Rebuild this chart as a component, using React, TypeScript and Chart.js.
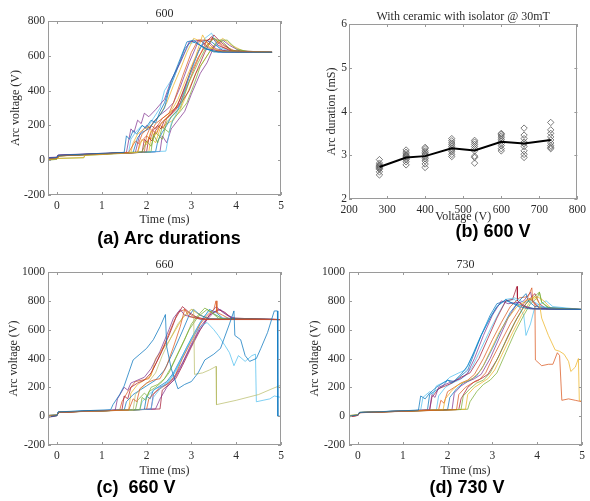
import React, { useEffect, useRef } from 'react';
import { Chart, registerables } from 'chart.js';
Chart.register(...registerables);

// ---------- shared ----------
const PALETTE = ['#0072BD', '#D95319', '#EDB120', '#7E2F8E', '#77AC30', '#4DBEEE', '#A2142F'];
const OLIVE = '#b8bd6a';
const TIME_TICKS = [0, 1, 2, 3, 4, 5];
const V800_TICKS = [-200, 0, 200, 400, 600, 800];
const V1000_TICKS = [-200, 0, 200, 400, 600, 800, 1000];

// ---------- panel (a) 600 V traces: [t(ms), V, t, V, ...] ----------
const A_TRACES: number[][] = [
  [-0.2, 12, 0, 15, 0.02, 28, 1.5, 45, 1.55, 140, 1.62, 120, 1.7, 170, 1.78, 150, 1.9, 200, 1.98, 185, 2.1, 230, 2.2, 215, 2.3, 280, 2.4, 330, 2.55, 450, 2.7, 550, 2.9, 680, 3.05, 690, 3.3, 640, 3.6, 622, 4.8, 620],
  [-0.2, 8, 0, 12, 0.05, 25, 1.6, 45, 1.75, 110, 1.82, 95, 1.9, 150, 2.05, 190, 2.12, 170, 2.2, 210, 2.35, 240, 2.5, 270, 2.6, 330, 2.8, 480, 3.0, 620, 3.15, 690, 3.3, 690, 3.55, 630, 4.8, 620],
  [-0.2, 5, 0, 10, 0.6, 15, 0.62, 28, 1.8, 45, 1.9, 120, 2.0, 90, 2.1, 170, 2.18, 140, 2.3, 200, 2.5, 260, 2.7, 350, 2.9, 480, 3.1, 600, 3.25, 720, 3.4, 650, 3.7, 625, 4.8, 620],
  [-0.2, 15, 0, 18, 0.03, 30, 1.55, 45, 1.65, 180, 1.72, 160, 1.8, 230, 1.88, 210, 1.95, 270, 2.05, 250, 2.2, 290, 2.4, 350, 2.55, 460, 2.75, 560, 2.95, 680, 3.2, 690, 3.4, 640, 3.7, 622, 4.8, 620],
  [-0.2, 0, 0, 5, 0.05, 25, 1.9, 48, 2.0, 110, 2.1, 80, 2.2, 160, 2.35, 120, 2.45, 220, 2.6, 260, 2.75, 300, 2.95, 450, 3.15, 560, 3.35, 660, 3.5, 700, 3.7, 680, 3.9, 630, 4.8, 620],
  [-0.2, 10, 0, 14, 0.04, 27, 2.43, 52, 2.5, 150, 2.55, 210, 2.65, 260, 2.8, 350, 2.95, 480, 3.1, 590, 3.3, 700, 3.45, 730, 3.6, 650, 3.9, 622, 4.8, 620],
  [-0.2, 12, 0, 16, 0.02, 28, 1.9, 45, 1.95, 120, 2.02, 100, 2.1, 160, 2.25, 200, 2.32, 180, 2.4, 230, 2.55, 270, 2.7, 320, 2.85, 420, 3.05, 560, 3.2, 650, 3.45, 710, 3.6, 660, 3.9, 625, 4.8, 620],
  [-0.2, 10, 0, 12, 0.03, 25, 1.7, 45, 1.8, 130, 1.9, 160, 2.05, 180, 2.2, 230, 2.3, 260, 2.4, 300, 2.5, 400, 2.65, 500, 2.85, 640, 3.0, 685, 3.2, 660, 3.5, 622, 4.8, 620],
  [-0.2, 5, 0, 8, 0.05, 25, 1.95, 46, 2.0, 140, 2.08, 120, 2.15, 170, 2.22, 150, 2.3, 200, 2.38, 185, 2.45, 240, 2.6, 280, 2.75, 330, 2.9, 420, 3.05, 520, 3.2, 610, 3.35, 690, 3.5, 700, 3.7, 650, 4.0, 622, 4.8, 620],
  [-0.2, 8, 0, 10, 0.04, 26, 1.65, 44, 1.7, 100, 1.8, 150, 1.95, 180, 2.1, 200, 2.3, 260, 2.45, 330, 2.6, 430, 2.75, 520, 2.9, 620, 3.05, 700, 3.25, 680, 3.5, 625, 4.8, 620],
  [-0.2, 14, 0, 16, 0.03, 28, 1.75, 45, 1.85, 150, 2.0, 200, 2.08, 185, 2.15, 220, 2.3, 260, 2.45, 290, 2.6, 330, 2.75, 420, 2.95, 560, 3.15, 680, 3.35, 690, 3.55, 640, 3.9, 622, 4.8, 620],
  [-0.2, 6, 0, 10, 0.6, 14, 0.62, 27, 2.1, 48, 2.15, 150, 2.25, 100, 2.35, 190, 2.5, 160, 2.6, 240, 2.75, 280, 2.9, 330, 3.05, 430, 3.2, 540, 3.4, 620, 3.6, 690, 3.8, 690, 4.0, 640, 4.3, 622, 4.8, 620],
  [-0.2, 10, 0, 12, 0.03, 26, 1.6, 44, 1.65, 120, 1.75, 160, 1.9, 200, 2.0, 180, 2.15, 240, 2.3, 300, 2.4, 400, 2.55, 460, 2.75, 560, 2.95, 670, 3.1, 680, 3.3, 640, 3.6, 622, 4.8, 620],
  [-0.2, 12, 0, 14, 0.02, 27, 2.0, 47, 2.05, 130, 2.12, 110, 2.2, 170, 2.35, 220, 2.5, 250, 2.65, 290, 2.8, 340, 2.95, 400, 3.1, 500, 3.3, 620, 3.5, 720, 3.65, 680, 3.9, 630, 4.8, 620],
  [-0.2, 8, 0, 12, 0.04, 26, 2.2, 48, 2.25, 110, 2.35, 160, 2.45, 200, 2.55, 250, 2.7, 290, 2.85, 400, 3.0, 520, 3.15, 620, 3.3, 690, 3.45, 680, 3.7, 630, 4.8, 620],
  [-0.2, 10, 0, 13, 0.03, 27, 1.8, 45, 1.85, 100, 2.0, 140, 2.1, 200, 2.2, 180, 2.35, 240, 2.5, 270, 2.65, 300, 2.8, 380, 2.95, 480, 3.15, 590, 3.3, 650, 3.5, 700, 3.7, 660, 4.0, 625, 4.8, 620],
  [-0.2, 4, 0, 8, 0.05, 24, 2.05, 48, 2.1, 130, 2.2, 100, 2.3, 180, 2.45, 210, 2.6, 230, 2.75, 290, 2.9, 380, 3.1, 500, 3.3, 580, 3.5, 660, 3.7, 700, 3.9, 660, 4.2, 622, 4.8, 620],
  [-0.2, 8, 0, 10, 0.04, 25, 2.3, 50, 2.35, 140, 2.45, 100, 2.55, 180, 2.7, 230, 2.85, 280, 3.0, 380, 3.2, 500, 3.35, 560, 3.5, 650, 3.7, 690, 3.85, 660, 4.1, 625, 4.8, 620],
];

// ---------- panel (c) 660 V traces ----------
const C_TRACES: number[][] = [
  [-0.2, -5, 0, 5, 0.03, 30, 1.2, 45, 1.25, 80, 1.4, 150, 1.5, 210, 1.6, 300, 1.7, 390, 1.85, 430, 2.0, 470, 2.15, 530, 2.3, 620, 2.42, 705, 2.45, 480, 2.55, 330, 2.7, 190, 2.85, 220, 3.0, 240, 3.15, 300, 3.3, 390, 3.5, 430, 3.65, 470, 3.85, 640, 3.95, 730, 3.97, 560, 4.1, 530, 4.2, 420, 4.3, 380, 4.45, 400, 4.55, 470, 4.7, 580, 4.85, 730, 4.92, 730, 4.93, 0, 5.0, 0],
  [-0.2, 0, 0, 8, 0.05, 28, 1.6, 42, 1.7, 120, 1.78, 100, 1.85, 190, 2.0, 230, 2.15, 250, 2.3, 260, 2.45, 350, 2.6, 480, 2.75, 620, 2.85, 740, 2.95, 690, 3.1, 680, 3.3, 670, 5, 670],
  [-0.2, 5, 0, 10, 0.04, 30, 1.7, 42, 1.75, 150, 1.9, 200, 2.05, 240, 2.2, 300, 2.35, 420, 2.5, 520, 2.7, 640, 2.85, 700, 3.0, 740, 3.05, 740, 3.07, 290, 3.25, 300, 3.4, 320, 3.55, 345, 3.56, 80, 4.0, 110, 4.5, 150, 4.8, 190, 5.0, 215],
  [-0.2, -8, 0, 2, 0.03, 28, 1.3, 42, 1.35, 120, 1.5, 200, 1.58, 180, 1.65, 230, 1.8, 250, 1.95, 270, 2.1, 330, 2.3, 450, 2.5, 600, 2.6, 680, 2.75, 740, 2.85, 700, 3.0, 690, 3.2, 672, 5, 670],
  [-0.2, 0, 0, 6, 0.04, 28, 1.85, 45, 1.9, 130, 1.98, 110, 2.05, 170, 2.2, 200, 2.35, 240, 2.5, 300, 2.65, 400, 2.85, 530, 3.0, 640, 3.15, 700, 3.3, 750, 3.45, 720, 3.6, 680, 3.8, 672, 5, 670],
  [-0.2, 5, 0, 10, 0.03, 30, 2.1, 48, 2.15, 130, 2.3, 190, 2.45, 230, 2.6, 290, 2.75, 380, 2.9, 480, 3.05, 560, 3.2, 620, 3.35, 650, 3.5, 600, 3.6, 560, 3.75, 490, 3.85, 440, 3.95, 350, 4.05, 420, 4.2, 380, 4.35, 420, 4.43, 430, 4.45, 100, 4.6, 110, 4.75, 120, 4.85, 140, 5.0, 130],
  [-0.2, -5, 0, 5, 0.03, 27, 1.45, 42, 1.5, 140, 1.58, 120, 1.65, 200, 1.8, 230, 1.95, 250, 2.1, 300, 2.3, 420, 2.5, 560, 2.65, 680, 2.8, 760, 2.95, 720, 3.1, 690, 3.3, 672, 5, 670],
  [-0.2, 0, 0, 8, 0.04, 30, 1.5, 42, 1.55, 100, 1.7, 150, 1.85, 180, 2.0, 210, 2.2, 250, 2.4, 320, 2.6, 450, 2.8, 590, 2.95, 700, 3.05, 740, 3.2, 700, 3.4, 675, 5, 670],
  [-0.2, 5, 0, 10, 0.05, 28, 2.0, 47, 2.05, 120, 2.2, 170, 2.35, 200, 2.5, 230, 2.65, 290, 2.8, 400, 3.0, 520, 3.2, 640, 3.35, 700, 3.5, 740, 3.55, 800, 3.57, 720, 3.7, 700, 3.85, 675, 5, 670],
  [-0.2, -3, 0, 8, 0.04, 28, 1.6, 43, 1.65, 160, 1.8, 220, 1.95, 250, 2.1, 280, 2.2, 400, 2.35, 460, 2.5, 520, 2.65, 600, 2.8, 680, 3.0, 740, 3.2, 700, 3.4, 675, 5, 670],
  [-0.2, 0, 0, 6, 0.03, 28, 2.2, 50, 2.3, 120, 2.45, 200, 2.6, 250, 2.75, 330, 2.95, 460, 3.15, 580, 3.35, 670, 3.5, 720, 3.65, 740, 3.8, 700, 4.0, 675, 5, 670],
  [-0.2, -6, 0, 3, 0.04, 27, 1.75, 44, 1.8, 110, 1.95, 160, 2.02, 140, 2.1, 200, 2.25, 220, 2.4, 260, 2.55, 340, 2.75, 470, 2.95, 600, 3.15, 690, 3.35, 740, 3.5, 710, 3.7, 675, 5, 670],
  [-0.2, 3, 0, 10, 0.03, 29, 1.85, 45, 1.9, 100, 2.05, 150, 2.2, 190, 2.35, 210, 2.5, 240, 2.65, 310, 2.85, 440, 3.05, 570, 3.25, 680, 3.4, 730, 3.55, 700, 3.75, 672, 5, 670],
  [-0.2, -2, 0, 8, 0.04, 28, 2.3, 50, 2.35, 180, 2.5, 220, 2.65, 260, 2.8, 350, 3.0, 480, 3.2, 600, 3.4, 700, 3.6, 740, 3.75, 720, 3.9, 680, 5, 670],
  [-0.2, 4, 0, 9, 0.04, 29, 1.95, 46, 2.0, 140, 2.08, 120, 2.15, 180, 2.3, 210, 2.45, 240, 2.6, 300, 2.8, 420, 3.0, 540, 3.2, 650, 3.4, 740, 3.55, 720, 3.7, 680, 5, 670],
  [-0.2, -4, 0, 6, 0.04, 28, 1.4, 42, 1.45, 100, 1.6, 180, 1.75, 240, 1.9, 250, 2.05, 260, 2.2, 360, 2.4, 500, 2.6, 650, 2.7, 720, 2.85, 740, 3.0, 700, 3.2, 675, 5, 670],
  [-0.2, 2, 0, 8, 0.04, 28, 2.1, 48, 2.15, 150, 2.3, 200, 2.45, 220, 2.6, 260, 2.8, 370, 3.0, 500, 3.2, 620, 3.4, 700, 3.55, 760, 3.7, 720, 3.9, 680, 5, 670],
];
const C_COLORS = [PALETTE[0], PALETTE[1], OLIVE, PALETTE[3], PALETTE[4], PALETTE[5], PALETTE[6], PALETTE[0], PALETTE[1], PALETTE[2], PALETTE[3], PALETTE[4], PALETTE[5], PALETTE[6], PALETTE[0], PALETTE[1], PALETTE[3]];

// ---------- panel (d) 730 V traces ----------
const D_TRACES: number[][] = [
  [-0.2, 0, 0, 8, 0.03, 25, 1.35, 42, 1.4, 140, 1.5, 120, 1.6, 160, 1.75, 200, 1.9, 230, 2.0, 250, 2.1, 230, 2.3, 290, 2.45, 350, 2.6, 450, 2.75, 560, 2.95, 680, 3.1, 760, 3.3, 810, 3.4, 790, 3.6, 760, 3.8, 745, 5, 740],
  [-0.2, -5, 0, 5, 0.04, 24, 2.2, 45, 2.25, 150, 2.4, 200, 2.55, 230, 2.7, 250, 2.85, 300, 3.0, 400, 3.2, 520, 3.4, 640, 3.6, 740, 3.8, 820, 3.9, 800, 3.95, 780, 3.96, 390, 4.1, 350, 4.25, 360, 4.35, 360, 4.45, 440, 4.5, 420, 4.55, 110, 4.7, 120, 4.85, 110, 5.0, 100],
  [-0.2, 5, 0, 10, 0.04, 26, 1.9, 45, 1.95, 120, 2.1, 180, 2.25, 220, 2.4, 240, 2.55, 260, 2.75, 320, 2.95, 450, 3.15, 580, 3.35, 680, 3.55, 760, 3.75, 800, 3.95, 830, 4.05, 780, 4.1, 680, 4.25, 560, 4.4, 460, 4.5, 450, 4.6, 430, 4.7, 380, 4.75, 310, 4.85, 340, 4.92, 400, 4.94, 110, 5.0, 100],
  [-0.2, -3, 0, 6, 0.03, 25, 1.6, 43, 1.65, 150, 1.72, 130, 1.8, 200, 1.95, 220, 2.1, 240, 2.3, 260, 2.45, 300, 2.6, 400, 2.8, 560, 3.0, 700, 3.2, 800, 3.35, 780, 3.6, 790, 3.75, 760, 3.9, 745, 5, 740],
  [-0.2, 0, 0, 8, 0.04, 25, 2.3, 46, 2.35, 140, 2.5, 190, 2.65, 230, 2.8, 250, 2.95, 300, 3.15, 420, 3.35, 560, 3.55, 680, 3.75, 780, 3.9, 820, 4.05, 860, 4.1, 790, 4.25, 750, 5, 740],
  [-0.2, 4, 0, 9, 0.03, 26, 1.4, 42, 1.45, 130, 1.6, 170, 1.68, 150, 1.75, 210, 1.95, 240, 2.05, 270, 2.25, 300, 2.4, 320, 2.55, 420, 2.7, 530, 2.9, 660, 3.1, 760, 3.3, 810, 3.5, 820, 3.7, 790, 3.9, 800, 4.1, 760, 4.3, 745, 5, 740],
  [-0.2, -2, 0, 6, 0.04, 25, 1.6, 43, 1.65, 130, 1.8, 190, 1.95, 210, 2.1, 230, 2.3, 270, 2.5, 300, 2.7, 400, 2.9, 540, 3.1, 680, 3.3, 800, 3.45, 810, 3.55, 900, 3.56, 800, 3.7, 760, 3.85, 745, 5, 740],
  [-0.2, 2, 0, 7, 0.04, 26, 2.0, 45, 2.05, 130, 2.2, 190, 2.35, 230, 2.5, 250, 2.65, 280, 2.8, 350, 3.0, 470, 3.2, 600, 3.4, 720, 3.6, 800, 3.75, 850, 3.8, 800, 3.95, 760, 5, 740],
  [-0.2, 0, 0, 8, 0.04, 25, 1.8, 44, 1.85, 110, 1.92, 90, 2.0, 170, 2.15, 200, 2.3, 230, 2.45, 250, 2.6, 290, 2.8, 400, 3.0, 530, 3.2, 650, 3.4, 760, 3.6, 820, 3.8, 830, 3.88, 890, 3.9, 790, 4.05, 750, 5, 740],
  [-0.2, 3, 0, 10, 0.04, 26, 2.4, 48, 2.45, 150, 2.6, 200, 2.75, 230, 2.9, 260, 3.05, 320, 3.25, 450, 3.45, 580, 3.65, 700, 3.85, 800, 4.0, 830, 4.15, 800, 4.3, 750, 5, 740],
  [-0.2, -4, 0, 5, 0.03, 24, 2.1, 46, 2.15, 160, 2.3, 210, 2.45, 240, 2.6, 260, 2.75, 290, 2.95, 400, 3.15, 540, 3.35, 680, 3.55, 780, 3.7, 800, 3.85, 860, 3.9, 800, 4.05, 750, 5, 740],
  [-0.2, 1, 0, 8, 0.04, 25, 2.45, 48, 2.5, 100, 2.65, 170, 2.8, 220, 2.95, 250, 3.1, 300, 3.3, 440, 3.5, 580, 3.7, 700, 3.85, 780, 4.0, 820, 4.05, 860, 4.1, 790, 4.3, 745, 5, 740],
  [-0.2, 2, 0, 9, 0.04, 26, 1.75, 44, 1.8, 140, 1.95, 200, 2.1, 230, 2.25, 250, 2.4, 280, 2.55, 340, 2.75, 470, 2.95, 600, 3.15, 720, 3.3, 800, 3.5, 810, 3.7, 700, 3.75, 560, 3.85, 640, 3.95, 760, 4.2, 800, 4.35, 760, 5, 740],
  [-0.2, -1, 0, 7, 0.04, 25, 2.25, 46, 2.3, 120, 2.45, 200, 2.6, 240, 2.75, 260, 2.9, 290, 3.1, 390, 3.3, 520, 3.5, 650, 3.7, 760, 3.85, 820, 3.95, 850, 4.05, 780, 4.2, 745, 5, 740],
  [-0.2, 3, 0, 8, 0.04, 26, 1.55, 42, 1.6, 150, 1.75, 180, 1.9, 210, 2.0, 250, 2.15, 240, 2.3, 280, 2.45, 320, 2.6, 440, 2.75, 560, 2.95, 700, 3.1, 780, 3.3, 800, 3.5, 780, 3.75, 760, 3.95, 745, 5, 740],
];

// ---------- panel (b) arc duration vs voltage ----------
const B_VOLTAGES = [280, 350, 400, 470, 530, 600, 660, 730];
const B_MEAN = [2.73, 2.95, 2.98, 3.16, 3.11, 3.31, 3.27, 3.35];
const B_SAMPLES: number[][] = [
  [2.55, 2.62, 2.68, 2.7, 2.72, 2.74, 2.76, 2.78, 2.82, 2.9],
  [2.78, 2.85, 2.9, 2.93, 2.96, 2.98, 3.0, 3.03, 3.07, 3.12],
  [2.72, 2.8, 2.87, 2.92, 2.96, 3.0, 3.03, 3.06, 3.1, 3.15, 3.18],
  [2.97, 3.02, 3.08, 3.12, 3.16, 3.2, 3.24, 3.28, 3.33, 3.38],
  [2.82, 2.95, 2.98, 3.1, 3.15, 3.2, 3.25, 3.3, 3.34],
  [3.1, 3.15, 3.22, 3.27, 3.32, 3.36, 3.4, 3.44, 3.48, 3.5],
  [2.95, 3.02, 3.1, 3.2, 3.26, 3.3, 3.38, 3.46, 3.62],
  [3.15, 3.18, 3.22, 3.28, 3.35, 3.42, 3.5, 3.58, 3.75],
];
const B_X_TICKS = [200, 300, 400, 500, 600, 700, 800];
const B_Y_TICKS = [2, 3, 4, 5, 6];

// ---------- styling ----------
const SERIF = "'Liberation Serif', 'Times New Roman', serif";
const TEXT = '#2b2b2b';
const BOX = '#9a9a9a';
const tickFont = { family: SERIF, size: 11.5 };
const labelFont = { family: SERIF, size: 12 };

const boxPlugin = {
  id: 'matlabBox',
  afterDatasetsDraw(chart: any) {
    const { ctx, chartArea: a, scales } = chart;
    ctx.save();
    ctx.strokeStyle = BOX;
    ctx.lineWidth = 1;
    ctx.strokeRect(Math.round(a.left) + 0.5, Math.round(a.top) + 0.5, Math.round(a.width) - 1, Math.round(a.height) - 1);
    const L = 3;
    ctx.beginPath();
    scales.x.ticks.forEach((t: any) => {
      const p = Math.round(scales.x.getPixelForValue(t.value)) + 0.5;
      ctx.moveTo(p, a.bottom); ctx.lineTo(p, a.bottom - L);
      ctx.moveTo(p, a.top); ctx.lineTo(p, a.top + L);
    });
    scales.y.ticks.forEach((t: any) => {
      const p = Math.round(scales.y.getPixelForValue(t.value)) + 0.5;
      ctx.moveTo(a.left, p); ctx.lineTo(a.left + L, p);
      ctx.moveTo(a.right, p); ctx.lineTo(a.right - L, p);
    });
    ctx.stroke();
    ctx.restore();
  },
};

const toPts = (arr: number[]) => {
  const p: { x: number; y: number }[] = [];
  for (let i = 0; i < arr.length; i += 2) p.push({ x: arr[i], y: arr[i + 1] });
  return p;
};

type Geo = {
  title: string; titlePadTop: number; padRight: number;
  yW: number; yTitle: string; yTitlePad: number; yTickPad: number;
  xH: number; xTitle: string; xTitlePad: number;
  xMin: number; xMax: number; xTicks: number[];
  yMin: number; yMax: number; yTicks: number[];
};

function makeOptions(g: Geo) {
  return {
    responsive: false,
    animation: false,
    devicePixelRatio: 1,
    layout: { padding: { left: 0, right: g.padRight, top: 0, bottom: 0 } },
    plugins: {
      legend: { display: false },
      tooltip: { enabled: false },
      title: {
        display: true, text: g.title, fullSize: false, color: TEXT,
        font: { ...labelFont, weight: 'normal' }, padding: { top: g.titlePadTop, bottom: 0 },
      },
    },
    scales: {
      x: {
        type: 'linear', min: g.xMin, max: g.xMax,
        afterBuildTicks: (s: any) => { s.ticks = g.xTicks.map((v) => ({ value: v })); },
        afterFit: (s: any) => { s.height = g.xH; },
        grid: { display: false, drawTicks: false },
        border: { display: false },
        ticks: { font: tickFont, color: TEXT, padding: 4, maxRotation: 0, autoSkip: false, callback: (v: any) => String(v) },
        title: { display: true, text: g.xTitle, color: TEXT, font: labelFont, padding: { top: 0, bottom: g.xTitlePad } },
      },
      y: {
        type: 'linear', min: g.yMin, max: g.yMax,
        afterBuildTicks: (s: any) => { s.ticks = g.yTicks.map((v) => ({ value: v })); },
        afterFit: (s: any) => { s.width = g.yW; },
        grid: { display: false, drawTicks: false },
        border: { display: false },
        ticks: { font: tickFont, color: TEXT, padding: g.yTickPad, autoSkip: false, callback: (v: any) => String(v) },
        title: { display: true, text: g.yTitle, color: TEXT, font: labelFont, padding: { top: g.yTitlePad, bottom: 0 } },
      },
    },
  };
}

function traceDatasets(traces: number[][], colors?: string[]) {
  return traces.map((t, i) => ({
    data: toPts(t),
    borderColor: (colors ? colors[i] : PALETTE[i % PALETTE.length]) + 'b8',
    borderWidth: 1,
    pointRadius: 0,
    showLine: true,
    tension: 0,
    fill: false,
  }));
}

function Panel(props: { left: number; top: number; build: () => any }) {
  const ref = useRef<HTMLCanvasElement>(null);
  useEffect(() => {
    const chart = new Chart(ref.current as HTMLCanvasElement, props.build());
    return () => chart.destroy();
  }, []);
  return (
    <canvas ref={ref} width={295} height={230}
      style={{ position: 'absolute', left: props.left, top: props.top, width: 295, height: 230 }} />
  );
}

const timeGeo = (title: string, titlePadTop: number, yW: number, yTitlePad: number, yTickPad: number, padRight: number, xTitlePad: number, yMax: number, yTicks: number[]): Geo => ({
  title, titlePadTop, padRight, yW, yTitle: 'Arc voltage (V)', yTitlePad, yTickPad,
  xH: 35, xTitle: 'Time (ms)', xTitlePad, xMin: -0.2, xMax: 5, xTicks: TIME_TICKS,
  yMin: -200, yMax, yTicks,
});

const buildA = () => ({
  type: 'scatter',
  data: { datasets: traceDatasets(A_TRACES) },
  options: makeOptions(timeGeo('600', 6.6, 48, 8.5, 3, 14, 2.8, 800, V800_TICKS)),
  plugins: [boxPlugin],
});

const buildC = () => ({
  type: 'scatter',
  data: { datasets: traceDatasets(C_TRACES, C_COLORS) },
  options: makeOptions(timeGeo('660', 7.6, 48, 6.5, 3, 14, 1.8, 1000, V1000_TICKS)),
  plugins: [boxPlugin],
});

const buildD = () => ({
  type: 'scatter',
  data: { datasets: traceDatasets(D_TRACES) },
  options: makeOptions(timeGeo('730', 7.6, 54, 12.3, 4, 8, 1.8, 1000, V1000_TICKS)),
  plugins: [boxPlugin],
});

const buildB = () => {
  const scatterPts: { x: number; y: number }[] = [];
  B_SAMPLES.forEach((arr, i) => arr.forEach((v) => scatterPts.push({ x: B_VOLTAGES[i], y: v })));
  const geo: Geo = {
    title: 'With ceramic with isolator @ 30mT', titlePadTop: 9.6, padRight: 8,
    yW: 54, yTitle: 'Arc duration (mS)', yTitlePad: 30, yTickPad: 2,
    xH: 31, xTitle: 'Voltage (V)', xTitlePad: 5.5,
    xMin: 200, xMax: 800, xTicks: B_X_TICKS, yMin: 2, yMax: 6, yTicks: B_Y_TICKS,
  };
  return {
    type: 'scatter',
    data: {
      datasets: [
        {
          data: B_VOLTAGES.map((x, i) => ({ x, y: B_MEAN[i] })),
          showLine: true, borderColor: '#000000', borderWidth: 2, pointRadius: 0, tension: 0,
        },
        {
          data: scatterPts, showLine: false, pointStyle: 'rectRot', pointRadius: 3.2,
          borderColor: '#5a5a5a', borderWidth: 0.8, backgroundColor: 'rgba(0,0,0,0)',
        },
      ],
    },
    options: makeOptions(geo),
    plugins: [boxPlugin],
  };
};

const captionStyle = (cx: number, cy: number): React.CSSProperties => ({
  position: 'absolute', left: cx - 120, top: cy - 11, width: 240, height: 22, lineHeight: '22px',
  textAlign: 'center', whiteSpace: 'pre', fontFamily: "'Liberation Sans', Arial, sans-serif",
  fontWeight: 'bold', fontSize: 18, color: '#000',
});

export default function App() {
  return (
    <div style={{ position: 'absolute', left: 0, top: 0, width: 590, height: 501, background: '#fff', overflow: 'hidden' }}>
      <Panel left={0} top={0} build={buildA} />
      <Panel left={295} top={0} build={buildB} />
      <Panel left={0} top={250} build={buildC} />
      <Panel left={295} top={250} build={buildD} />
      <div style={captionStyle(169, 238)}>(a) Arc durations</div>
      <div style={captionStyle(493, 231)}>(b) 600 V</div>
      <div style={captionStyle(136, 487)}>{'(c)  660 V'}</div>
      <div style={captionStyle(467, 487)}>(d) 730 V</div>
    </div>
  );
}
